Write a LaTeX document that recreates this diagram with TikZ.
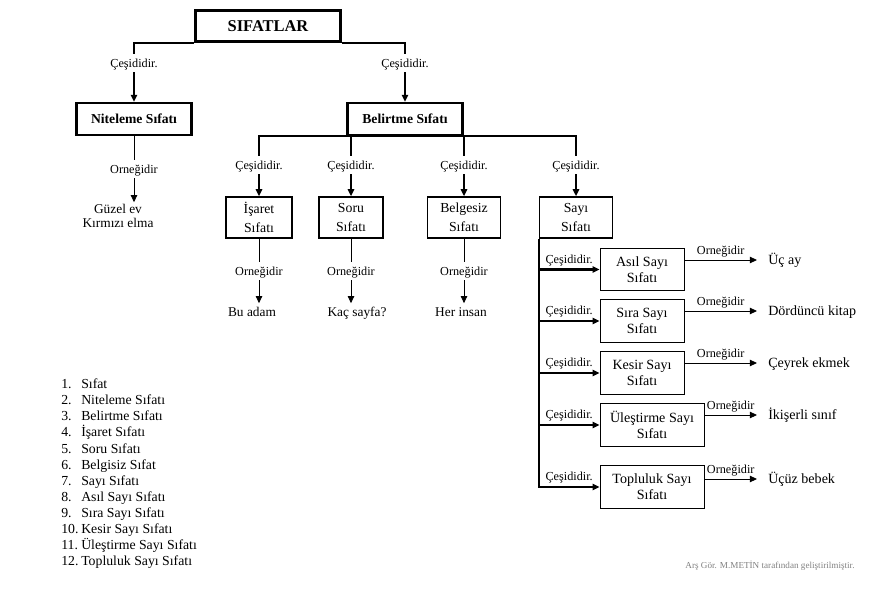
\documentclass[tikz,border=0pt]{standalone}
\usepackage{fontspec}
\setmainfont{Liberation Serif}
\usepackage{tikz}
\usetikzlibrary{
arrows.meta,
positioning,
calc
}
\newcommand{\madde}[2]{\makebox[0.5cm][l]{#1}#2}

\begin{document}
\begin{tikzpicture}[
  x=0.025cm, y=-0.025cm,
  >={Triangle[length=5pt,width=4.5pt]},
  kalin/.style={line width=1.6pt},
  ince/.style={line width=0.6pt},
  baslik/.style={draw, line width=2pt, minimum width=3.63cm, minimum height=0.78cm, font=\bfseries\fontsize{11.7}{14}\selectfont},
  ana/.style={draw, line width=1.6pt, minimum width=2.88cm, minimum height=0.8cm, font=\bfseries\fontsize{9.7}{12}\selectfont},
  tur/.style={draw, line width=1pt, minimum height=1.03cm, inner sep=1pt, align=center, font=\fontsize{9.8}{13.5}\selectfont},
  altur/.style={draw, line width=0.6pt, minimum height=1.07cm, inner sep=1pt, align=center, font=\fontsize{10}{11.5}\selectfont},
  cesit/.style={font=\fontsize{8.7}{10}\selectfont, fill=white, inner sep=1.5pt, text height=1.75ex, text depth=0.45ex},
  ust/.style={cesit, fill=none, above},
  ornek/.style={font=\fontsize{9.5}{10.5}\selectfont, inner sep=1pt, text height=1.75ex, text depth=0.45ex},
  ornekcok/.style={font=\fontsize{9.5}{10.5}\selectfont, align=center, inner sep=1pt},
  yanornek/.style={font=\fontsize{10}{12}\selectfont, anchor=west, inner xsep=7.8pt, inner ysep=1pt, text height=1.75ex, text depth=0.45ex},
  liste/.style={font=\fontsize{9.8}{11.38}\selectfont, align=left, inner sep=0pt, anchor=north west},
  imza/.style={font=\fontsize{6.5}{8}\selectfont, gray}
]
\useasboundingbox (0,0) rectangle (880,597);

% Nodes
\node[baslik] (sifatlar) at (268,26) {SIFATLAR};
\node[ana] (niteleme) at (134,119) {Niteleme Sıfatı};
\node[ana] (belirtme) at (405,119) {Belirtme Sıfatı};
\node[ornekcok] (guzel) at (118,216) {Güzel ev\\Kırmızı elma};

\node[tur, minimum width=1.65cm] (isaret) at (259,217.5) {İşaret\\Sıfatı};
\node[tur, minimum width=1.6cm] (soru) at (351,217.5) {Soru\\Sıfatı};
\node[tur, minimum width=1.83cm] (belgesiz) at (464,217.5) {Belgesiz\\Sıfatı};
\node[tur, minimum width=1.83cm] (sayi) at (576,217.5) {Sayı\\Sıfatı};

\node[ornek] (buadam) at (252,312) {Bu adam};
\node[ornek] (kacsayfa) at (357,312) {Kaç sayfa?};
\node[ornek] (herinsan) at (461,312) {Her insan};

\node[altur, minimum width=2.1cm] (asil) at (642,269.5) {Asıl Sayı\\Sıfatı};
\node[altur, minimum width=2.1cm] (sira) at (642,321) {Sıra Sayı\\Sıfatı};
\node[altur, minimum width=2.1cm] (kesir) at (642,373) {Kesir Sayı\\Sıfatı};
\node[altur, minimum width=2.6cm] (ulestirme) at (652,425) {Üleştirme Sayı\\Sıfatı};
\node[altur, minimum width=2.6cm] (topluluk) at (652,487) {Topluluk Sayı\\Sıfatı};

\node[yanornek] (ucay) at (757,260) {Üç ay};
\node[yanornek] (dorduncu) at (757,311) {Dördüncü kitap};
\node[yanornek] (ceyrek) at (757,363) {Çeyrek ekmek};
\node[yanornek] (ikiserli) at (757,415) {İkişerli sınıf};
\node[yanornek] (ucuz) at (757,479) {Üçüz bebek};

\node[liste] (liste) at (61,379) {\madde{1.}{Sıfat}\\ \madde{2.}{Niteleme Sıfatı}\\ \madde{3.}{Belirtme Sıfatı}\\ \madde{4.}{İşaret Sıfatı}\\ \madde{5.}{Soru Sıfatı}\\ \madde{6.}{Belgisiz Sıfat}\\ \madde{7.}{Sayı Sıfatı}\\ \madde{8.}{Asıl Sayı Sıfatı}\\ \madde{9.}{Sıra Sayı Sıfatı}\\ \madde{10.}{Kesir Sayı Sıfatı}\\ \madde{11.}{Üleştirme Sayı Sıfatı}\\ \madde{12.}{Topluluk Sayı Sıfatı}};
\node[imza] (imza) at (770,566) {Arş Gör. M.METİN tarafından geliştirilmiştir.};

% Edges
\draw[kalin, ->] (sifatlar.south west) -| node[cesit, pos=0.67]{Çeşididir.} (niteleme.north);
\draw[kalin, ->] (sifatlar.south east) -| node[cesit, pos=0.67]{Çeşididir.} (belirtme.north);
\draw[ince, ->] (niteleme.south) -- node[cesit]{Orneğidir} (niteleme.south |- guzel.north);

\draw[kalin, ->] (belirtme.south) -| node[cesit, pos=0.74]{Çeşididir.} (isaret.north);
\draw[kalin, ->] (belirtme.south) -| node[cesit, pos=0.74]{Çeşididir.} (soru.north);
\draw[kalin, ->] (belirtme.south) -| node[cesit, pos=0.74]{Çeşididir.} (belgesiz.north);
\draw[kalin, ->] (belirtme.south) -| node[cesit, pos=0.74]{Çeşididir.} (sayi.north);

\draw[ince, ->] (isaret.south) -- node[cesit]{Orneğidir} (isaret.south |- buadam.north);
\draw[ince, ->] (soru.south) -- node[cesit]{Orneğidir} (soru.south |- kacsayfa.north);
\draw[ince, ->] (belgesiz.south) -- node[cesit]{Orneğidir} (belgesiz.south |- herinsan.north);

% Sayi sifati dallari
\draw[kalin, ->] (sayi.south west) |- node[ust, pos=0.75]{Çeşididir.} (asil.west);
\draw[kalin, ->] (sayi.south west) |- node[ust, pos=0.75]{Çeşididir.} (sira.west);
\draw[kalin, ->] (sayi.south west) |- node[ust, pos=0.75]{Çeşididir.} (kesir.west);
\draw[kalin, ->] (sayi.south west) |- node[ust, pos=0.75]{Çeşididir.} (ulestirme.west);
\draw[kalin, ->] (sayi.south west) |- node[ust, pos=0.75]{Çeşididir.} (topluluk.west);

\draw[ince, ->] (asil.east |- ucay) -- node[ust]{Orneğidir} (ucay.west);
\draw[ince, ->] (sira.east |- dorduncu) -- node[ust]{Orneğidir} (dorduncu.west);
\draw[ince, ->] (kesir.east |- ceyrek) -- node[ust]{Orneğidir} (ceyrek.west);
\draw[ince, ->] (ulestirme.east |- ikiserli) -- node[ust]{Orneğidir} (ikiserli.west);
\draw[ince, ->] (topluluk.east |- ucuz) -- node[ust]{Orneğidir} (ucuz.west);

\end{tikzpicture}
\end{document}
